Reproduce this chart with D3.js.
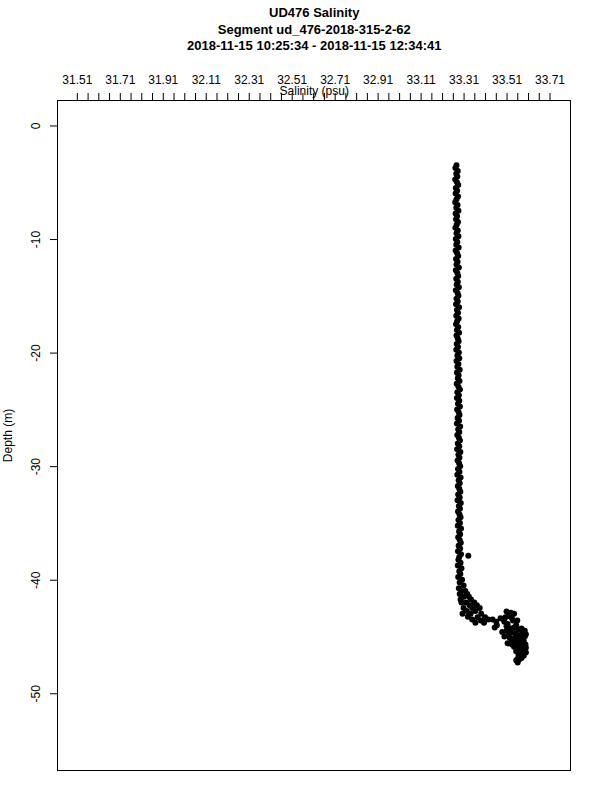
<!DOCTYPE html>
<html>
<head>
<meta charset="utf-8">
<script src="https://cdn.jsdelivr.net/npm/d3@7"></script>
<style>
    body { margin: 0; background: white; }
    svg { display: block; font-family: "Liberation Sans", Arial, Helvetica, sans-serif; }
</style>
</head>
<body>
<div id="chart"></div>
<script>
// titles
var titleLines = ["UD476 Salinity", "Segment ud_476-2018-315-2-62", "2018-11-15 10:25:34 - 2018-11-15 12:34:41"]
var xTitle = "Salinity (psu)"
var yTitle = "Depth (m)"

// axes
var xDomain = [31.42, 33.81]
var yDomain = [2.2, -56.8]
var xFirstTick = 31.51
var xTickStep = 0.05
var xTickCount = 45
var yTicks = [0, -10, -20, -30, -40, -50]

// [salinity, depth] samples
var upperColumn = [
    [33.277,-3.5],[33.272,-3.75],[33.283,-4.0],[33.276,-4.25],[33.281,-4.5],[33.271,-4.75],[33.279,-5.0],[33.285,-5.25],
    [33.274,-5.5],[33.280,-5.75],[33.273,-6.0],[33.284,-6.25],[33.277,-6.5],[33.271,-6.75],[33.282,-7.0],[33.276,-7.25],
    [33.286,-7.5],[33.273,-7.75],[33.280,-8.0],[33.275,-8.25],[33.284,-8.5],[33.278,-8.75],[33.272,-9.0],[33.283,-9.25],
    [33.277,-9.5],[33.286,-9.75],[33.274,-10.0],[33.281,-10.25],[33.276,-10.5],[33.287,-10.75],[33.273,-11.0],[33.280,-11.25],
    [33.285,-11.5],[33.275,-11.75],[33.282,-12.0],[33.277,-12.25],[33.288,-12.5],[33.274,-12.75],[33.281,-13.0],[33.285,-13.25],
    [33.276,-13.5],[33.283,-13.75],[33.278,-14.0],[33.288,-14.25],[33.274,-14.5],[33.282,-14.75],[33.286,-15.0],[33.277,-15.25],
    [33.283,-15.5],[33.275,-15.75],[33.289,-16.0],[33.279,-16.25],[33.284,-16.5],[33.276,-16.75],[33.287,-17.0],[33.280,-17.25],
    [33.275,-17.5],[33.285,-17.75],[33.279,-18.0],[33.289,-18.25],[33.277,-18.5],[33.283,-18.75],[33.287,-19.0],[33.278,-19.25],
    [33.284,-19.5],[33.276,-19.75],[33.288,-20.0]
]
var middleColumn = [
    [33.281,-20.25],[33.290,-20.5],[33.277,-20.75],[33.286,-21.0],[33.281,-21.25],[33.292,-21.5],[33.279,-21.75],[33.287,-22.0],
    [33.283,-22.25],[33.291,-22.5],[33.278,-22.75],[33.286,-23.0],[33.293,-23.25],[33.281,-23.5],[33.288,-23.75],[33.279,-24.0],
    [33.290,-24.25],[33.284,-24.5],[33.293,-24.75],[33.280,-25.0],[33.287,-25.25],[33.291,-25.5],[33.282,-25.75],[33.289,-26.0],
    [33.279,-26.25],[33.294,-26.5],[33.285,-26.75],[33.290,-27.0],[33.281,-27.25],[33.288,-27.5],[33.293,-27.75],[33.283,-28.0],
    [33.290,-28.25],[33.280,-28.5],[33.295,-28.75],[33.286,-29.0],[33.291,-29.25],[33.282,-29.5],[33.289,-29.75],[33.294,-30.0],
    [33.284,-30.25],[33.291,-30.5],[33.281,-30.75],[33.296,-31.0],[33.287,-31.25],[33.292,-31.5],[33.283,-31.75],[33.290,-32.0],
    [33.295,-32.25],[33.285,-32.5],[33.292,-32.75],[33.282,-33.0],[33.297,-33.25],[33.288,-33.5],[33.293,-33.75],[33.284,-34.0],
    [33.291,-34.25],[33.296,-34.5],[33.286,-34.75],[33.293,-35.0],[33.283,-35.25],[33.298,-35.5],[33.289,-35.75],[33.294,-36.0],
    [33.285,-36.25],[33.292,-36.5],[33.297,-36.75],[33.287,-37.0],[33.294,-37.25],[33.284,-37.5],[33.298,-37.75],[33.290,-38.0],
    [33.332,-37.9]
]
var transition = [
    [33.286,-38.25],[33.296,-38.5],[33.283,-38.75],[33.300,-39.0],[33.290,-39.25],[33.295,-39.5],[33.285,-39.75],[33.303,-40.0],
    [33.292,-40.25],[33.310,-40.5],[33.288,-40.75],[33.318,-41.0],[33.300,-41.0],[33.327,-41.25],[33.292,-41.25],[33.335,-41.5],
    [33.310,-41.5],[33.296,-41.75],[33.345,-41.75],[33.322,-42.0],[33.360,-42.0],[33.300,-42.0],[33.338,-42.25],[33.372,-42.25],
    [33.310,-42.5],[33.350,-42.5],[33.385,-42.5],[33.325,-42.75],[33.365,-42.75],[33.305,-43.0],[33.343,-43.0],[33.392,-43.0],
    [33.330,-43.25],[33.410,-43.3],[33.375,-43.3],[33.350,-43.5],[33.425,-43.5],[33.445,-43.5],[33.390,-43.6],[33.462,-43.7],
    [33.365,-43.8],[33.405,-43.8]
]
var bottomCluster = [
    [33.510,-42.8],[33.530,-42.9],[33.520,-43.2],[33.545,-43.0],[33.482,-43.4],[33.495,-43.5],[33.500,-43.7],[33.465,-44.0],
    [33.455,-44.2],[33.515,-43.9],[33.540,-43.6],[33.555,-44.0],[33.530,-44.3],[33.580,-44.3],[33.595,-44.5],[33.600,-44.8],
    [33.490,-44.6],[33.500,-45.0],[33.520,-44.8],[33.545,-44.7],[33.565,-45.0],[33.585,-45.2],[33.535,-45.3],[33.555,-45.5],
    [33.575,-45.6],[33.598,-45.7],[33.515,-45.6],[33.545,-45.9],[33.565,-46.0],[33.590,-46.1],[33.555,-46.3],[33.575,-46.5],
    [33.600,-46.4],[33.565,-46.8],[33.580,-46.9],[33.562,-47.3],
    [33.525,-43.0],[33.505,-43.3],[33.535,-43.4],[33.560,-43.6],[33.510,-44.1],[33.545,-44.2],[33.565,-44.4],[33.585,-44.6],
    [33.510,-44.5],[33.530,-44.6],[33.555,-44.8],[33.575,-44.9],[33.595,-45.0],[33.525,-45.1],[33.545,-45.2],[33.565,-45.3],
    [33.590,-45.4],[33.535,-45.7],[33.555,-45.8],[33.580,-45.9],[33.600,-46.0],[33.560,-46.1],[33.585,-46.3],[33.565,-46.5],
    [33.590,-46.7],[33.570,-47.0],[33.555,-47.1]
]

var width = 600
var height = 800
var box = {left: 57.5, right: 571, top: 100.5, bottom: 770.5}

var svg = d3.select("#chart")
    .append("svg")
        .attr("width", width)
        .attr("height", height)

// scales
var x = d3.scaleLinear()
    .domain(xDomain)
    .range([box.left, box.right])

var y = d3.scaleLinear()
    .domain(yDomain)
    .range([box.top, box.bottom])

// title
svg.append("g")
    .selectAll("text")
    .data(titleLines)
    .enter()
    .append("text")
        .attr("x", (box.left + box.right) / 2)
        .attr("y", (d, i) => 17 + i * 16.5)
        .attr("text-anchor", "middle")
        .style("font-size", "13px")
        .style("font-weight", "bold")
        .text(d => d)

// top axis: minor ticks every 0.05, label every 4th
var xTicks = d3.range(xTickCount).map(i => xFirstTick + i * xTickStep)
var xAxis = svg.append("g")
    .attr("transform", "translate(0," + (box.top - 0.5) + ")")
    .call(d3.axisTop(x)
        .tickValues(xTicks)
        .tickSize(7)
        .tickPadding(9)
        .tickFormat((d, i) => i % 4 == 0 ? d3.format(".2f")(d) : ""))
xAxis.select(".domain").remove()
xAxis.selectAll("text")
    .style("font-size", "12px")
    .style("font-family", null)
    .attr("fill", "black")

svg.append("text")
    .attr("x", (box.left + box.right) / 2)
    .attr("y", 94.5)
    .attr("text-anchor", "middle")
    .style("font-size", "12px")
    .text(xTitle)

// left axis
var yAxis = svg.append("g")
    .attr("transform", "translate(" + (box.left - 0.5) + ",0)")
    .call(d3.axisLeft(y)
        .tickValues(yTicks)
        .tickSize(7)
        .tickFormat(d => String(d)))
yAxis.select(".domain").remove()
yAxis.selectAll("text")
    .attr("transform", "rotate(-90)")
    .attr("x", 0)
    .attr("y", -17.5)
    .attr("dy", 0)
    .attr("text-anchor", "middle")
    .style("font-size", "12px")
    .style("font-family", null)
    .attr("fill", "black")

svg.append("text")
    .attr("transform", "translate(12," + (box.top + box.bottom) / 2 + ") rotate(-90)")
    .attr("text-anchor", "middle")
    .style("font-size", "12px")
    .text(yTitle)

// plot frame
svg.append("rect")
    .attr("x", box.left)
    .attr("y", box.top)
    .attr("width", box.right - box.left - 0.5)
    .attr("height", box.bottom - box.top)
    .attr("fill", "none")
    .attr("stroke", "black")
    .attr("stroke-width", 1)

// points
var points = upperColumn.concat(middleColumn, transition, bottomCluster)
svg.append("g")
    .selectAll("circle")
    .data(points)
    .enter()
    .append("circle")
        .attr("cx", d => x(d[0]))
        .attr("cy", d => y(d[1]))
        .attr("r", 3)
        .style("fill", "black")
</script>
</body>
</html>
